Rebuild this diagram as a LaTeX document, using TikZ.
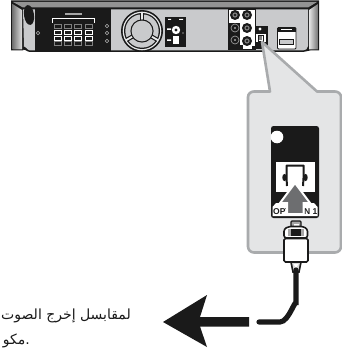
\documentclass[tikz,border=0pt]{standalone}
\usepackage{fontspec}
\setsansfont{Liberation Sans}
\newfontfamily\arabicfont[Script=Arabic]{DejaVu Sans}
\TeXXeTstate=1
\definecolor{bodygray}{HTML}{C9CACC}
\definecolor{calloutfill}{HTML}{E4E5E6}
\definecolor{calloutline}{HTML}{A9ABAD}
\definecolor{arrowgray}{HTML}{6D6E70}
\definecolor{inkblack}{HTML}{1A1A1A}
\tikzset{
  ink/.style={fill=inkblack,draw=none},
  keyrow/.style={draw=white,line width=.9pt,fill=inkblack,minimum width=7pt,minimum height=4pt,inner sep=0pt},
  dimrow/.style={draw=gray,line width=.5pt,fill=inkblack,minimum width=7pt,minimum height=4pt,inner sep=0pt},
  tinyhole/.style={draw=gray!60,line width=.6pt,circle,inner sep=0pt,minimum size=3.5pt},
  portlabel/.style={font=\sffamily\bfseries\fontsize{8.5}{10}\selectfont,text=inkblack,inner sep=0pt},
  arabictext/.style={font=\arabicfont\fontsize{14}{16}\selectfont,text=inkblack,inner sep=0pt,anchor=base east}
}
\begin{document}
\begin{tikzpicture}[x=1pt,y=-1pt]
\useasboundingbox (0,0) rectangle (342,353);
\fill[white] (0,0) rectangle (342,353);
% device body
\fill[inkblack] (11,0.5) -- (319,0.5) -- (319,50.5) -- (310,50.5) to[out=180,in=0] (303,52) -- (30,52) to[out=180,in=90] (23,50.5) -- (11,50.5) -- cycle;
\fill[gray!85] (13,2) -- (317,2) -- (308,7.5) -- (23,7.5) -- cycle;
\fill[bodygray] (23,9.5) -- (308,9.5) -- (308,46) to[out=270,in=0] (303,50.5) -- (30,50.5) to[out=180,in=90] (24,47) -- cycle;
\shade[left color=gray!90!black,right color=gray!25] (12.5,4) -- (22,10) -- (22,49.5) -- (12.5,49.5) -- cycle;
\shade[left color=gray!20,right color=gray!90!black] (309,10) -- (318,4) -- (318,49.5) -- (309,49.5) -- cycle;
\fill[inkblack,rotate around={8:(29,15)}] (29,15) ellipse (5 and 10);
% amplifier panel
\fill[ink] (35,8) rectangle (111,52);
\fill[gray!70] (65,13) rectangle (82,15.5);
\draw[white,line width=.8pt] (52.5,23) -- (52.5,18) -- (94,18) -- (94,23);
\foreach \cx/\nm in {58/a,68/b,78/c,89/d}{
  \node[dimrow] (row1\nm) at (\cx,26) {};
  \node[keyrow] (row2\nm) at (\cx,32) {};
  \node[keyrow] (row3\nm) at (\cx,38) {};
  \node[dimrow] (row4\nm) at (\cx,43.5) {};
}
\node[tinyhole] (hole1) at (38,33) {};
\node[tinyhole] (hole2) at (107,26) {};
\node[tinyhole] (hole3) at (107,33) {};
\node[tinyhole] (hole4) at (107,41) {};
% fan
\fill[inkblack] (142,31) circle (21);
\fill[bodygray!40] (142,31) circle (19.3);
\fill[inkblack] (142,31) circle (18);
\fill[bodygray] (142,31) circle (16.7);
\foreach \a in {90,210,330}{
  \draw[inkblack,line width=4.2pt] (142,31) -- ++(\a:-17.5);
  \draw[bodygray!40,line width=1.8pt] (142,31) -- ++(\a:-18.5);
}
\fill[inkblack] (142,31) circle (11.6);
\fill[bodygray] (142,31) circle (10.4);
% small panel
\fill[ink] (165,17) rectangle (186,47);
\fill[white] (168,19) rectangle (171,20) (179,19) rectangle (183,20);
\fill[white] (176,30) circle (4.2);
\fill[inkblack] (176,30) circle (1.6);
\fill[white] (173,36.5) rectangle (179,44);
\fill[white] (167,28.5) rectangle (171,30) (167,39.5) rectangle (171,41);
\fill[white] (183,33) circle (.7);
% speaker terminals
\fill[white] (228,9) rectangle (255,26);
\fill[white] (240,26) rectangle (255,49);
\fill[ink] (228,23) rectangle (240,49);
\fill[ink] (240,45.5) rectangle (243,49);
\fill[ink] (252,46) rectangle (255,49);
\draw[inkblack,line width=.8pt] (228,9) rectangle (255,49);
\foreach \cx/\cy/\nm in {235/15/a,247/15/b,247/28/c,247/41/d}{
  \fill[inkblack] (\cx,\cy) circle (5);
  \fill[gray] (\cx,\cy) circle (2.6);
  \fill[inkblack] (\cx,\cy) circle (1.3);
}
\foreach \cx/\cy in {235/28,235/40}{
  \draw[gray!80,line width=.7pt] (\cx,\cy) circle (4);
  \fill[gray!70] (\cx,\cy) circle (1.2);
}
% optical port on device
\fill[ink] (255,26) rectangle (268,49);
\fill[white] (260,29) circle (1.6);
\fill[white] (255.5,34) rectangle (266,42);
\draw[inkblack,line width=.8pt] (258,35) rectangle (263,41);
\fill[gray] (259,36) rectangle (262,40);
% HDMI-like port
\draw[inkblack,line width=.8pt,fill=white,rounded corners=1pt] (277.5,27.5) rectangle (296,49);
\fill[inkblack] (278,28) rectangle (295.5,32);
\fill[white] (281,29.5) rectangle (292,30.5);
\draw[inkblack,line width=.8pt,fill=bodygray] (279.5,39) rectangle (293.5,44);
% callout
\draw[calloutline,line width=2.6pt,fill=calloutfill,line join=round]
  (262,42) -- (270,91.5) -- (254,91.5) to[out=180,in=90] (248,97) -- (248,246.5)
  to[out=270,in=180] (254,252.5) -- (335,252.5) to[out=0,in=270] (341,246.5) -- (341,97)
  to[out=90,in=0] (335,91.5) -- (317,91.5) -- cycle;
% jack panel
\fill[ink,rounded corners=2.5pt] (271,126) rectangle (319,218);
\fill[white] (277,137) circle (6.3);
\fill[white] (276,162) rectangle (315,192);
% socket outline
\draw[inkblack,line width=2pt,line join=round] (287,186) -- (286.5,178) -- (286.5,165.5) -- (303.5,165.5) -- (303.5,178) -- (303,186);
\fill[inkblack] (284.5,177.5) ellipse (2.2 and 3.6) (305.5,177.5) ellipse (2.2 and 3.6);
% lower white label strip
\fill[white] (272.5,207) -- (276,203) -- (314,203) -- (317.5,207) -- (317.5,216) -- (272.5,216) -- cycle;
\node[portlabel,anchor=base west] (optlabel) at (273,214) {OPT};
\node[portlabel,anchor=base east] (inlabel) at (317.5,214) {IN 1};
% big gray arrow
\draw[white,line width=2pt,fill=arrowgray,line join=miter]
  (295,183) -- (310,203) -- (303.5,203) -- (303.5,214) -- (287,214) -- (287,203) -- (280,203) -- cycle;
% plug
\draw[inkblack,line width=1.4pt,fill=gray!70,rounded corners=1pt] (291,221) rectangle (301,230);
\fill[white] (293.5,224) rectangle (298.5,227);
\draw[inkblack,line width=1.6pt,fill=white,rounded corners=2.5pt] (284,229) -- (289,226.5) -- (303,226.5) -- (307.5,229) -- (307.5,238) -- (284,238) -- cycle;
\fill[gray!70] (288,229) rectangle (304,235.5);
\fill[inkblack] (291,229) rectangle (301,236);
\draw[inkblack,line width=1.6pt,fill=white,rounded corners=1.5pt] (284,238.5) rectangle (308,262);
\draw[inkblack,line width=1.6pt,fill=gray!30] (291,262) -- (301,262) -- (299,272) -- (293,272) -- cycle;
\fill[white] (293.5,264) -- (298.5,264) -- (296,268) -- cycle;
% cable
\draw[inkblack,line width=5.2pt,line cap=round] (296,270) -- (296,305) to[out=90,in=0] (280,322) -- (259,322);
% large black arrow
\fill[inkblack] (163,322) -- (207,295) -- (200,317) -- (249,317) -- (249,326.5) -- (200,326.5) -- (207,347) -- cycle;
% Arabic text
\node[arabictext] (line1) at (131,319) {\beginR لمقابسل إخرج الصوت\endR};
\node[arabictext] (line2) at (30,344) {\beginR .مكو\endR};
\end{tikzpicture}
\end{document}
